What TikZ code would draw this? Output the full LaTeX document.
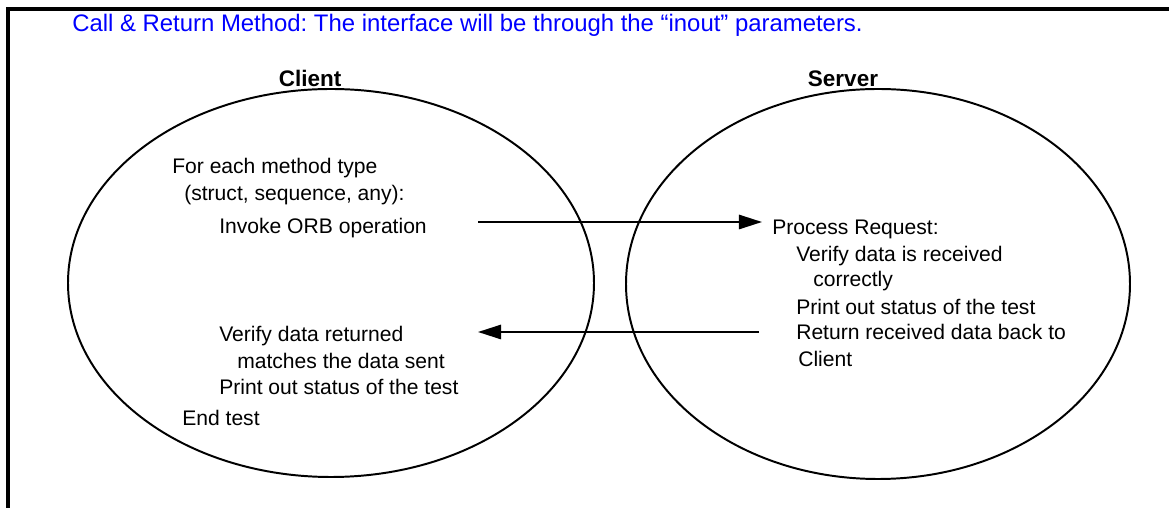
\documentclass[tikz,border=0pt]{standalone}
\usepackage{fontspec}
\setmainfont{Liberation Sans}
\usetikzlibrary{shapes.geometric,arrows.meta}
\frenchspacing

\begin{document}
\begin{tikzpicture}[auto, font=\fontsize{15}{18}\selectfont]
            \useasboundingbox (0,0) rectangle (29.225,12.7);
            \draw[line width=2.4pt] (0.2,0) -- (0.2,12.475) -- (29.225,12.475);
            \node[anchor=base west, text=blue, inner sep=0pt, font=\fontsize{17}{20}\selectfont] (title) at (1.8,11.9)
                {Call \& Return Method: The interface will be through the “inout” parameters.};
            \begin{scope}[every node/.style={ellipse,draw=black,line width=1.4pt,inner sep=0pt}]
                \node[minimum width=13.15cm, minimum height=9.7cm] (client) at (8.275,5.625) {};
                \node[minimum width=12.6cm, minimum height=9.75cm] (server) at (21.95,5.6) {};
            \end{scope}
            \node[anchor=base, font=\fontsize{16}{19}\selectfont\bfseries] (clientname) at (7.75,10.525) {Client};
            \node[anchor=base, font=\fontsize{16}{19}\selectfont\bfseries] (servername) at (21.075,10.525) {Server};
            % client side steps
            \begin{scope}[every node/.style={anchor=base west,inner sep=0pt}]
                \node (c1) at (4.3,8.35) {For each method type};
                \node (c2) at (4.6,7.675) {(struct, sequence, any):};
                \node (c3) at (5.475,6.85) {Invoke ORB operation};
                \node (c4) at (5.475,4.15) {Verify data returned};
                \node (c5) at (5.925,3.475) {matches the data sent};
                \node (c6) at (5.475,2.825) {Print out status of the test};
                \node (c7) at (4.55,2.05) {End test};
            \end{scope}
            % server side steps
            \begin{scope}[every node/.style={anchor=base west,inner sep=0pt}]
                \node (s1) at (19.3,6.825) {Process Request:};
                \node (s2) at (19.9,6.15) {Verify data is received};
                \node (s3) at (20.325,5.525) {correctly};
                \node (s4) at (19.9,4.825) {Print out status of the test};
                \node (s5) at (19.9,4.2) {Return received data back to};
                \node (s6) at (19.95,3.525) {Client};
            \end{scope}
            \coordinate (callout) at (11.95,7.15);
            \coordinate (callin) at (19.05,7.15);
            \coordinate (retout) at (18.975,4.4);
            \coordinate (retin) at (11.95,4.4);
            \draw[line width=1.4pt, -{Triangle[length=0.58cm,width=0.36cm]}] (callout) -- (callin);
            \draw[line width=1.4pt, -{Triangle[length=0.58cm,width=0.36cm]}] (retout) -- (retin);
        \end{tikzpicture}
\end{document}
